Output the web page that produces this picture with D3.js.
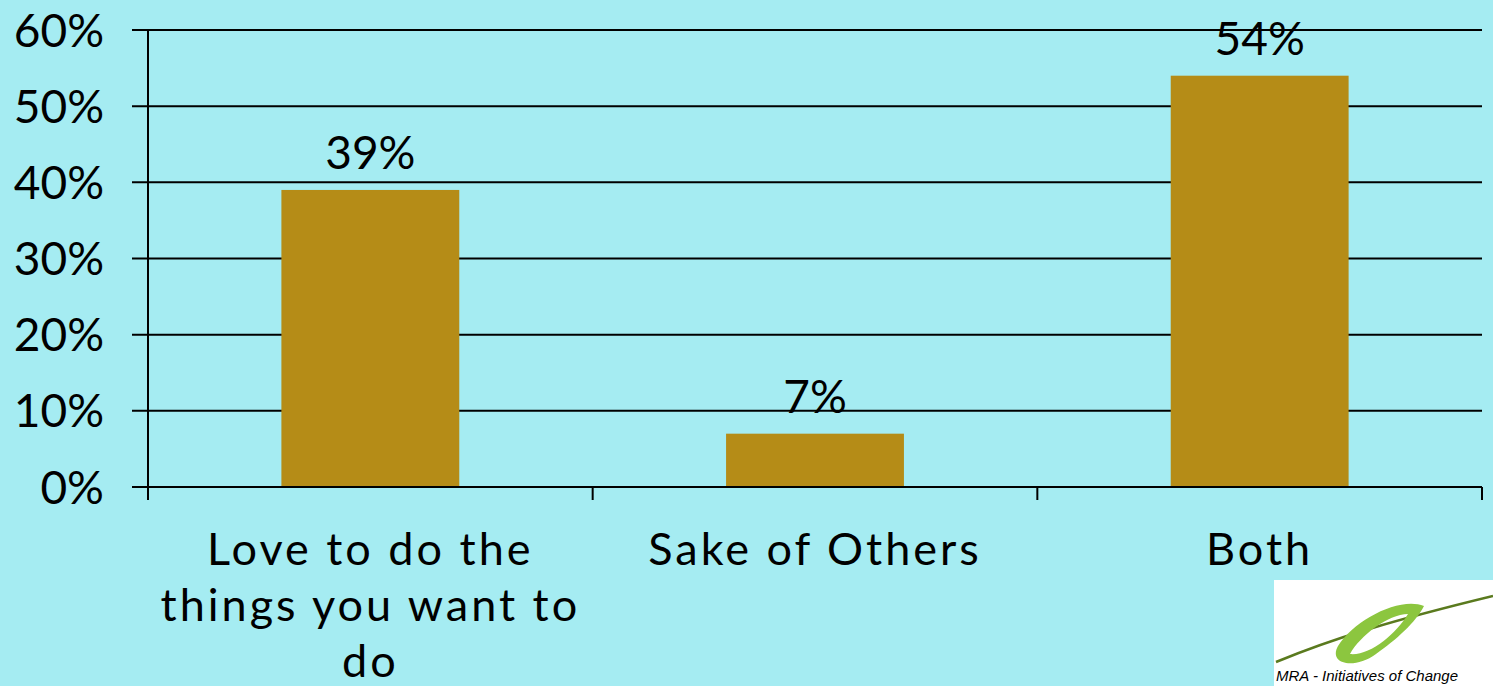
<!DOCTYPE html>
<html>
<head>
<meta charset="utf-8">
<script src="https://cdnjs.cloudflare.com/ajax/libs/d3/7.8.5/d3.min.js"></script>
<style>
  html, body { margin: 0; padding: 0; background: #a5ecf2; overflow: hidden; }
  svg { display: block; }
  text { font-family: "Lato", "DejaVu Sans", sans-serif; fill: #000; }
</style>
</head>
<body>
<svg id="chart"></svg>
<script>
var categories = [
  ["Love to do the", "things you want to", "do"],
  ["Sake of Others"],
  ["Both"]
];
var values = [39, 7, 54];
var yTicks = [0, 10, 20, 30, 40, 50, 60];

var W = 1493, H = 686;
var margin = {top: 30, right: 11, bottom: 199, left: 148},
    width = W - margin.left - margin.right,
    height = H - margin.top - margin.bottom;

var svg = d3.select("#chart")
    .attr("width", W)
    .attr("height", H);

svg.append("rect")
    .attr("width", W)
    .attr("height", H)
    .attr("fill", "#a5ecf2");

var g = svg.append("g")
    .attr("transform", "translate(" + margin.left + "," + margin.top + ")");

var idx = d3.range(values.length);

// category bands (ticks between them) and bar bands
var xCat = d3.scaleBand()
    .domain(idx)
    .range([0, width])
    .padding(0);
var xBar = d3.scaleBand()
    .domain(idx)
    .range([0, width])
    .paddingInner(0.6)
    .paddingOuter(0.3);

var y = d3.scaleLinear()
    .domain([0, 60])
    .range([height, 0]);

// gridlines + y ticks
g.append("g")
  .selectAll("line")
  .data(yTicks)
  .enter()
  .append("line")
    .attr("x1", -16)
    .attr("x2", width)
    .attr("y1", function(d) { return y(d); })
    .attr("y2", function(d) { return y(d); })
    .attr("stroke", "#000")
    .attr("stroke-width", 2);

// y axis line
g.append("line")
    .attr("x1", 0).attr("x2", 0)
    .attr("y1", 0).attr("y2", height + 13)
    .attr("stroke", "#000")
    .attr("stroke-width", 2);

// y tick labels
g.append("g")
  .selectAll("text")
  .data(yTicks)
  .enter()
  .append("text")
    .attr("x", -44)
    .attr("y", function(d) { return y(d); })
    .attr("dy", "0.36em")
    .attr("text-anchor", "end")
    .style("font-size", "46px")
    .text(function(d) { return d + "%"; });

// bars
g.append("g")
  .selectAll("rect")
  .data(values)
  .enter()
  .append("rect")
    .attr("x", function(d, i) { return xBar(i); })
    .attr("y", function(d) { return y(d); })
    .attr("width", xBar.bandwidth())
    .attr("height", function(d) { return height - y(d); })
    .attr("fill", "#b58c17");

// baseline over bars
g.append("line")
    .attr("x1", -16).attr("x2", width)
    .attr("y1", height).attr("y2", height)
    .attr("stroke", "#000")
    .attr("stroke-width", 2);

// x ticks between categories
g.append("g")
  .selectAll("line")
  .data(idx.concat([values.length]))
  .enter()
  .append("line")
    .attr("x1", function(d) { return d < values.length ? xCat(d) : width; })
    .attr("x2", function(d) { return d < values.length ? xCat(d) : width; })
    .attr("y1", height)
    .attr("y2", height + 13)
    .attr("stroke", "#000")
    .attr("stroke-width", 2);

// value labels
g.append("g")
  .selectAll("text")
  .data(values)
  .enter()
  .append("text")
    .attr("x", function(d, i) { return xBar(i) + xBar.bandwidth() / 2; })
    .attr("y", function(d) { return y(d) - 21; })
    .attr("text-anchor", "middle")
    .style("font-size", "46px")
    .text(function(d) { return d + "%"; });

// category labels
var cl = g.append("g")
  .selectAll("text")
  .data(categories)
  .enter()
  .append("text")
    .attr("text-anchor", "middle")
    .attr("transform", function(d, i) {
      return "translate(" + (xCat(i) + xCat.bandwidth() / 2) + "," + (height + 78) + ")";
    })
    .style("font-size", "45px")
    .style("letter-spacing", "3px");
cl.selectAll("tspan")
  .data(function(d) { return d; })
  .enter()
  .append("tspan")
    .attr("x", 0)
    .attr("y", function(d, i) { return i * 56; })
    .text(function(d) { return d; });

// logo in the corner
var logo = svg.append("g")
    .attr("transform", "translate(1274,580)");
logo.append("rect")
    .attr("width", 219)
    .attr("height", 106)
    .attr("fill", "#fff");
logo.append("path")
    .attr("d", "M2,82 C60,58 120,40 219,16")
    .attr("fill", "none")
    .attr("stroke", "#5a7a1e")
    .attr("stroke-width", 2.5);
logo.append("path")
    .attr("d", "M150,26 C126,16 80,40 64,66 C54,84 80,90 102,74 C122,60 142,42 150,26 Z" +
               "M134,34 C114,34 86,56 76,74 C96,76 122,54 134,34 Z")
    .attr("fill", "#8cc63f")
    .attr("fill-rule", "evenodd");
logo.append("text")
    .attr("x", 2)
    .attr("y", 101)
    .style("font-family", "Liberation Sans, Arial, sans-serif")
    .style("font-style", "italic")
    .style("font-size", "15px")
    .text("MRA - Initiatives of Change");
</script>
</body>
</html>
